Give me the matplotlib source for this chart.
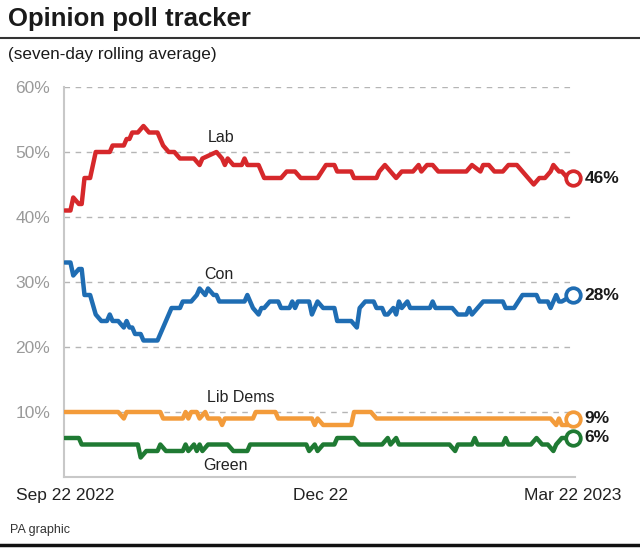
import matplotlib.pyplot as plt
import matplotlib as mpl

mpl.rcParams['font.family'] = ['Liberation Sans', 'DejaVu Sans']

# days since Sep 22 2022, values in %
lab_days = [0, 2, 3, 5, 6, 7, 9, 11, 16, 17, 21, 22, 23, 24, 26, 28, 30, 33, 35, 37, 39, 41, 46, 48, 49,
            54, 56, 57, 58, 60, 63, 64, 65, 69, 71, 77, 79, 82, 84, 90, 93, 96, 97, 102, 103, 111, 112,
            114, 116, 118, 120, 124, 126, 127, 129, 131, 133, 143, 145, 148, 149, 151, 153, 156, 158,
            161, 163, 165, 167, 169, 171, 173, 174, 176, 177, 179, 181]
lab_vals = [41, 41, 43, 42, 42, 46, 46, 50, 50, 51, 51, 52, 52, 53, 53, 54, 53, 53, 51, 50, 50, 49, 49, 48, 49,
            50, 49, 48, 49, 48, 48, 49, 48, 48, 46, 46, 47, 47, 46, 46, 48, 48, 47, 47, 46, 46, 47,
            48, 47, 46, 47, 47, 48, 47, 48, 48, 47, 47, 48, 47, 48, 48, 47, 47, 48,
            48, 47, 46, 45, 46, 46, 47, 48, 47, 47, 46, 46]

con_days = [0, 2, 3, 5, 6, 7, 9, 11, 13, 15, 16, 17, 19, 21, 22, 23, 24, 25, 27, 28, 33, 37, 38, 41, 42, 45,
            47, 48, 50, 51, 53, 54, 55, 64, 65, 66, 67, 69, 70, 71, 73, 76, 77, 80, 81, 82, 83, 87, 88, 90,
            92, 96, 97, 102, 104, 105, 107, 110, 111, 113, 114, 115, 117, 118, 119, 120, 122, 123, 130,
            131, 132, 138, 140, 143, 144, 145, 147, 149, 156, 157, 160, 163, 168, 169, 172, 173, 175,
            176, 177, 181]
con_vals = [33, 33, 31, 32, 32, 28, 28, 25, 24, 24, 25, 24, 24, 23, 24, 23, 23, 22, 22, 21, 21, 25, 26, 26, 27, 27,
            28, 29, 28, 29, 28, 28, 27, 27, 28, 27, 26, 25, 26, 26, 27, 27, 26, 26, 27, 26, 27, 27, 25, 27,
            26, 26, 24, 24, 23, 26, 27, 27, 26, 26, 25, 25, 26, 25, 27, 26, 27, 26, 26,
            27, 26, 26, 25, 25, 26, 25, 26, 27, 27, 26, 26, 28, 28, 27, 27, 26, 28,
            27, 27, 28]

ld_days = [0, 19, 21, 22, 34, 35, 42, 43, 44, 45, 47, 48, 50, 51, 55, 56, 57, 67, 68, 75, 76, 88, 89, 90,
           92, 102, 103, 109, 111, 173, 175, 176, 177, 179, 181]
ld_vals = [10, 10, 9, 10, 10, 9, 9, 10, 9, 10, 10, 9, 10, 9, 9, 8, 9, 9, 10, 10, 9, 9, 8, 9,
           8, 8, 10, 10, 9, 9, 8, 9, 8, 8, 9]

grn_days = [0, 5, 6, 26, 27, 29, 33, 34, 36, 42, 43, 44, 46, 47, 48, 49, 51, 58, 60, 65, 66, 86, 87, 89, 90,
            92, 96, 97, 103, 105, 113, 115, 116, 118, 119, 137, 139, 140, 145, 146, 147, 156, 157, 158,
            166, 168, 170, 172, 174, 175, 177, 181]
grn_vals = [6, 6, 5, 5, 3, 4, 4, 5, 4, 4, 5, 4, 5, 4, 5, 4, 5, 5, 4, 4, 5, 5, 4, 5, 4,
            5, 5, 6, 6, 5, 5, 6, 5, 6, 5, 5, 4, 5, 5, 6, 5, 5, 6, 5,
            5, 6, 5, 5, 4, 5, 6, 6]

series = [
    ('Lab', lab_days, lab_vals, '#d6282b', (55.5, 52.3)),
    ('Con', con_days, con_vals, '#1f6db3', (54.7, 31.2)),
    ('Lib Dems', ld_days, ld_vals, '#f39b3a', (62.6, 12.3)),
    ('Green', grn_days, grn_vals, '#1f7a33', (57.2, 1.7)),
]

xtick_pos = [0, 91, 181]
xtick_labels = ['Sep 22 2022', 'Dec 22', 'Mar 22 2023']
yticks = [0, 10, 20, 30, 40, 50, 60]

fig = plt.figure(figsize=(6.4, 5.48), dpi=100)
ax = fig.add_axes([64/640, 71/548, 511/640, 390/548])

for name, d, v, col, lpos in series:
    ax.plot(d, v, color=col, lw=3.2, solid_joinstyle='round', solid_capstyle='round', zorder=3)
    ax.plot(d[-1], v[-1], 'o', ms=10.5, mfc='white', mec=col, mew=2.7, zorder=4, clip_on=False)
    ax.text(lpos[0], lpos[1], name, ha='center', va='center', fontsize=11.5, color='#222222')
    ax.text(d[-1] + 4.2, v[-1], f'{v[-1]}%', ha='left', va='center', fontsize=12.5,
            color='#1a1a1a', fontweight='bold')

ax.set_xlim(-0.3, 181.7)
ax.set_ylim(0, 60)
for y in yticks[1:]:
    ax.axhline(y, color='#b5b5b5', lw=1, ls=(0, (4, 4)), zorder=1)

ax.set_yticks(yticks[1:])
ax.set_yticklabels([f'{y}%' for y in yticks[1:]], fontsize=12.5, color='#9a9a9a')
ax.set_xticks(xtick_pos)
ax.set_xticklabels(xtick_labels, fontsize=12.5, color='#222222')
ax.tick_params(axis='both', length=0)
ax.tick_params(axis='y', pad=10)
ax.tick_params(axis='x', pad=8)

for s in ['top', 'right']:
    ax.spines[s].set_visible(False)
for s in ['left', 'bottom']:
    ax.spines[s].set_color('#c8c8c8')
    ax.spines[s].set_linewidth(1.5)

fig.text(8/640, 1 - 19/548, 'Opinion poll tracker', fontsize=18.5, fontweight='bold',
         color='#1a1a1a', va='center', ha='left')
fig.add_artist(plt.Line2D([0, 1], [1 - 38/548, 1 - 38/548], color='#333333', lw=1.5))
fig.text(8/640, 1 - 55/548, '(seven-day rolling average)', fontsize=12.3, color='#1a1a1a',
         va='center', ha='left')
fig.text(10/640, 1 - 530/548, 'PA graphic', fontsize=9, color='#333333', va='center', ha='left')
fig.add_artist(plt.Line2D([0, 1], [1 - 545/548, 1 - 545/548], color='#111111', lw=2.5))

fig.savefig('out.png', dpi=100)
